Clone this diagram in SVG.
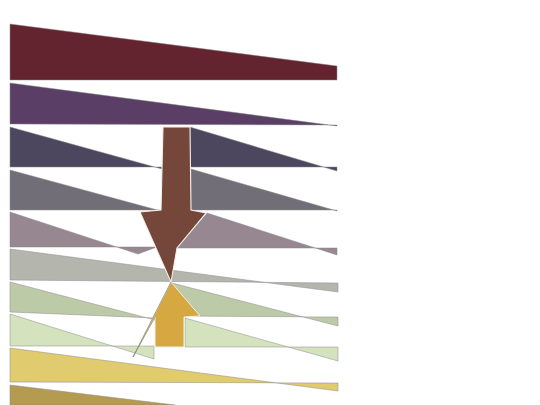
<svg xmlns="http://www.w3.org/2000/svg" width="540" height="405" viewBox="0 0 540 405">
<style>
.b{stroke:#8a8a8a;stroke-width:0.5;stroke-linejoin:miter}
.ar{stroke:#f4efe8;stroke-width:1.1;stroke-linejoin:miter}
</style>
<rect width="540" height="405" fill="#ffffff"/>
<g id="band1"><polygon class="b" fill="#63242f" points="10,24 337,66 337,80 10,80"/></g>
<g id="band2"><polygon class="b" fill="#5a3e66" points="10,83 337,126 337,125 10,124"/></g>
<g id="band3">
<polygon class="b" fill="#4d465f" points="10,127 162,169 162,167 10,167"/>
<polygon class="b" fill="#4d465f" points="190,127 337,171 337,167 190,167"/>
</g>
<g id="band4">
<polygon class="b" fill="#726e78" points="10,170 161,211 161,210 10,210"/>
<polygon class="b" fill="#726e78" points="191,169 337,211 337,210 191,210"/>
</g>
<g id="band5">
<polygon class="b" fill="#978790" points="10,212 138,254 157,247 10,247"/>
<polygon class="b" fill="#978790" points="207,213 337,255 337,248 177,248"/>
</g>
<g id="band6"><polygon class="b" fill="#b4b6ae" points="10,249 338,292 338,283 10,280"/></g>
<g id="band7">
<polygon class="b" fill="#bdcaa8" points="10,282 155,320 155,318 10,312"/>
<polygon class="b" fill="#bdcaa8" points="172,283 338,326 338,317 172,316"/>
</g>
<g id="band8">
<polygon class="b" fill="#d4e3bd" points="10,314 154,359 154,346 10,346"/>
<polygon class="b" fill="#d4e3bd" points="185,318 338,361 338,347 185,347"/>
</g>
<g id="band9"><polygon class="b" fill="#e0cb6e" points="10,348 338,391 338,383 10,382"/></g>
<g id="band10"><polygon class="b" fill="#b59b4f" points="10,385 175,405 10,405"/></g>
<g id="connectors">
<g id="arrow-down"><polygon class="ar" fill="#75473a" points="163,127 190,127 191,210 206,213 177,248 171,282 140,212 161,210"/></g>
<g id="arrow-up"><polygon fill="#d6a842" stroke="#f4efe8" stroke-width="1" points="171,282 200,316 184,317 184,347 155,347 155,317 133,357"/>
<polyline fill="none" stroke="#6e6a50" stroke-width="0.6" points="155,317 133,357 171,282"/></g>
</g>
</svg>
